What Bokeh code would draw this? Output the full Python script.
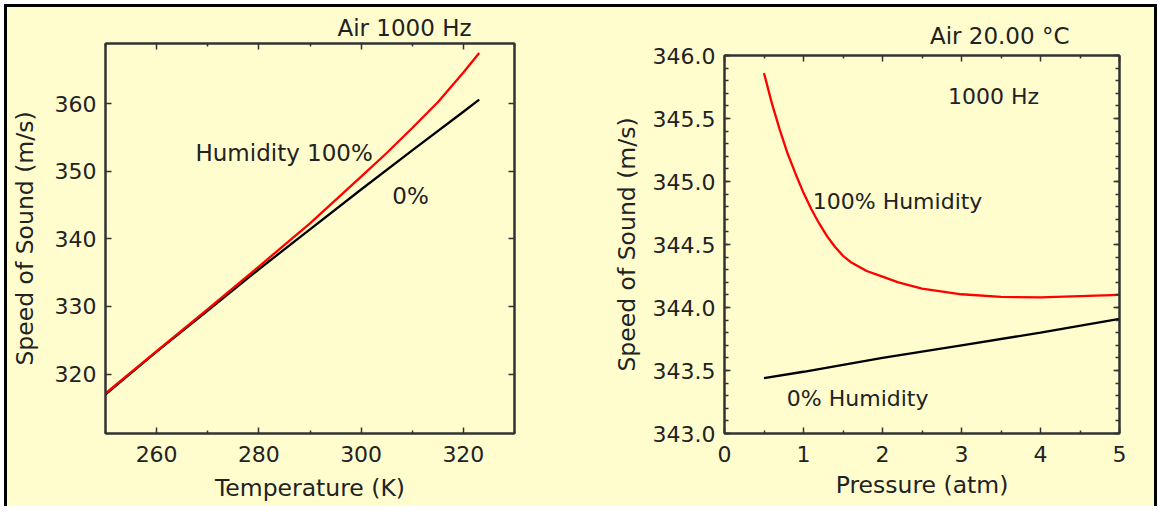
from bokeh.plotting import figure
from bokeh.models import Range1d, LinearAxis, FixedTicker, Label, Title, PrintfTickFormatter, Spacer
from bokeh.layouts import row, column
from bokeh.embed import file_html
from bokeh.resources import INLINE

# ---------------- data ----------------
# Left panel: speed of sound vs temperature (Air, 1000 Hz)
temp_humid = [250, 260, 270, 280, 290, 300, 305, 310, 315, 320, 323.1]
speed_humid = [317.15, 323.4, 329.6, 335.9, 342.3, 349.2, 352.7, 356.4, 360.2, 364.6, 367.5]
temp_dry = [250, 260, 270, 280, 290, 300, 310, 320, 323.1]
speed_dry = [317.0, 323.3, 329.4, 335.5, 341.4, 347.3, 353.1, 358.8, 360.6]
temp_ticks = [260, 280, 300, 320]
temp_minor = [250, 270, 290, 310, 330]
speed_ticks_left = [320, 330, 340, 350, 360]

# Right panel: speed of sound vs pressure (Air, 20.00 C, 1000 Hz)
press_humid = [0.5, 0.6, 0.7, 0.8, 0.9, 1.0, 1.1, 1.2, 1.3, 1.4, 1.5, 1.6, 1.8, 2.0, 2.2, 2.5,
               3.0, 3.5, 4.0, 4.5, 5.0]
speed_p_humid = [345.86, 345.62, 345.41, 345.22, 345.06, 344.91, 344.78, 344.665, 344.565, 344.48,
                 344.41, 344.36, 344.29, 344.245, 344.20, 344.15, 344.105, 344.085, 344.08,
                 344.09, 344.10]
press_dry = [0.5, 1, 2, 3, 4, 5]
speed_p_dry = [343.44, 343.49, 343.60, 343.70, 343.80, 343.91]
press_ticks = [0, 1, 2, 3, 4, 5]
press_minor = [0.5, 1.5, 2.5, 3.5, 4.5]
speed_ticks_right = [343.0, 343.5, 344.0, 344.5, 345.0, 345.5, 346.0]
speed_minor_right = [round(343.0 + 0.1 * i, 1) for i in range(31)]

# ---------------- style ----------------
CREAM = "#FFFDCE"
INK = "#222222"
FRAME = "#333333"
FONT = "DejaVu Sans"
TICK_FS = "22px"
TITLE_FS = "23.5px"
TEXT_FS = "23px"


def style_axis(ax, major, minor, labels=True, standoff=10, label_standoff=5):
    ax.ticker = FixedTicker(ticks=major, minor_ticks=minor)
    ax.major_tick_in = 6
    ax.major_tick_out = 0
    ax.minor_tick_in = 3
    ax.minor_tick_out = 0
    ax.axis_line_color = FRAME
    ax.axis_line_width = 2
    ax.major_tick_line_color = FRAME
    ax.major_tick_line_width = 1.5
    ax.minor_tick_line_color = FRAME if minor else None
    ax.minor_tick_line_width = 1.5
    ax.major_label_text_font = FONT
    ax.axis_label_text_font = FONT
    ax.axis_label_text_font_style = "normal"
    ax.axis_label_text_color = INK
    ax.axis_label_text_font_size = TITLE_FS
    if labels:
        ax.major_label_text_color = INK
        ax.major_label_text_font_size = TICK_FS
        ax.major_label_standoff = standoff
        ax.axis_label_standoff = label_standoff
    else:
        ax.major_label_text_color = None
        ax.major_label_text_font_size = "1px"
        ax.major_label_standoff = 0


def base_fig(xr, yr, fw, fh, bl, br, bt, bb, xlab, ylab):
    p = figure(frame_width=fw, frame_height=fh,
               min_border_left=bl, min_border_right=br,
               min_border_top=bt, min_border_bottom=bb,
               x_range=xr, y_range=yr, title=None,
               x_axis_label=xlab, y_axis_label=ylab,
               output_backend="svg", toolbar_location=None,
               background_fill_color=CREAM, border_fill_color=CREAM)
    p.grid.visible = False
    p.outline_line_color = FRAME
    p.outline_line_width = 2
    p.add_layout(LinearAxis(), "above")
    p.add_layout(LinearAxis(), "right")
    return p


def add_title(p, text, offset, standoff):
    p.add_layout(Title(text=text, align="right", offset=offset, standoff=standoff,
                       text_font=FONT, text_font_size=TEXT_FS, text_font_style="normal",
                       text_color=INK), "above")


def add_text(p, x, y, text, size=TEXT_FS):
    p.add_layout(Label(x=x, y=y, text=text, text_align="left", text_baseline="alphabetic",
                       text_font=FONT, text_font_size=size, text_color=INK))


# ---------------- left panel ----------------
p1 = base_fig(Range1d(250, 330), Range1d(311.2, 368.9), 409, 390, 97, 87, 36, 73,
              "Temperature (K)", "Speed of Sound (m/s)")
style_axis(p1.below[0], temp_ticks, temp_minor, standoff=12, label_standoff=9)
style_axis(p1.left[0], speed_ticks_left, [], standoff=9, label_standoff=13)
style_axis(p1.above[0], temp_ticks, temp_minor, labels=False)
style_axis(p1.right[0], speed_ticks_left, [], labels=False)

p1.line(temp_dry, speed_dry, line_color="black", line_width=2.3)
p1.line(temp_humid, speed_humid, line_color="#FF0000", line_width=2.3)

add_title(p1, "Air 1000 Hz", 43, 5)
add_text(p1, 267.6, 352.74, "Humidity 100%")
add_text(p1, 306.1, 346.34, "0%")

# ---------------- right panel ----------------
p2 = base_fig(Range1d(0, 5), Range1d(343, 346), 395, 378, 123, 35, 43, 73,
              "Pressure (atm)", "Speed of Sound (m/s)")
style_axis(p2.below[0], press_ticks, press_minor, standoff=12, label_standoff=6)
style_axis(p2.left[0], speed_ticks_right, speed_minor_right, standoff=9, label_standoff=9)
style_axis(p2.above[0], press_ticks, press_minor, labels=False)
style_axis(p2.right[0], speed_ticks_right, speed_minor_right, labels=False)
p2.left[0].formatter = PrintfTickFormatter(format="%.1f")
for ax in p2.left + p2.right:
    ax.minor_tick_in = 4

p2.line(press_dry, speed_p_dry, line_color="black", line_width=2.3)
p2.line(press_humid, speed_p_humid, line_color="#FF0000", line_width=2.3)

add_title(p2, "Air 20.00 \u00b0C", 50, 13)
add_text(p2, 2.83, 345.675, "1000 Hz", size="22px")
add_text(p2, 1.117, 344.842, "100% Humidity", size="22px")
add_text(p2, 0.789, 343.278, "0% Humidity", size="22px")

right_col = column(Spacer(width=553, height=5), p2)

layout = row(p1, right_col, styles={
    "border-top": "3px solid black",
    "border-left": "3px solid black",
    "border-right": "3px solid black",
    "background-color": CREAM,
    "margin-left": "4px",
    "margin-top": "4px",
})

open("out.html", "w").write(file_html(layout, INLINE))
